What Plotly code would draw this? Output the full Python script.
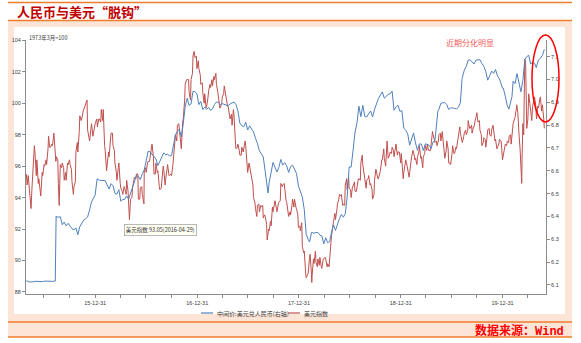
import plotly.graph_objects as go

# ---------------- data ----------------
# USD/CNY central parity (right axis)
cny_2015 = [("2015-04-28",6.117),("2015-05-01",6.118),("2015-05-08",6.113),("2015-05-15",6.112),("2015-05-22",6.114),
            ("2015-05-29",6.116),("2015-06-05",6.115),("2015-06-12",6.117),("2015-06-19",6.116),("2015-06-26",6.115),
            ("2015-07-03",6.117),("2015-07-10",6.116),("2015-07-17",6.117),("2015-07-24",6.116),("2015-07-31",6.116),
            ("2015-08-10",6.117),("2015-08-11",6.230),("2015-08-12",6.331),("2015-08-13",6.401),("2015-08-14",6.398),
            ("2015-08-21",6.397),("2015-08-28",6.399),("2015-09-04",6.364),("2015-09-11",6.375),("2015-09-18",6.359),
            ("2015-09-25",6.370),("2015-10-09",6.346),("2015-10-16",6.341),("2015-10-23",6.350),("2015-10-30",6.320),
            ("2015-11-06",6.355),("2015-11-13",6.370),("2015-11-20",6.385),("2015-11-27",6.390),("2015-12-04",6.398),
            ("2015-12-11",6.428),("2015-12-18",6.464),("2015-12-31",6.494)]
cny_2016 = [("2016-01-07",6.565),("2016-01-15",6.559),("2016-01-22",6.558),("2016-01-29",6.555),("2016-02-05",6.557),
            ("2016-02-19",6.520),("2016-02-26",6.544),("2016-03-04",6.535),("2016-03-11",6.501),("2016-03-18",6.498),
            ("2016-03-25",6.518),("2016-04-01",6.467),("2016-04-08",6.474),("2016-04-15",6.475),("2016-04-22",6.490),
            ("2016-04-29",6.476),("2016-05-06",6.503),("2016-05-13",6.523),("2016-05-20",6.554),("2016-05-27",6.579),
            ("2016-06-03",6.576),("2016-06-10",6.562),("2016-06-17",6.587),("2016-06-24",6.604),("2016-07-01",6.643),
            ("2016-07-08",6.686),("2016-07-15",6.683),("2016-07-22",6.672),("2016-07-29",6.661),("2016-08-05",6.652),
            ("2016-08-12",6.623),("2016-08-19",6.644),("2016-08-26",6.664),("2016-09-02",6.679),("2016-09-09",6.670),
            ("2016-09-16",6.673),("2016-09-23",6.665),("2016-09-30",6.667),("2016-10-14",6.757),("2016-10-21",6.773),
            ("2016-10-28",6.781),("2016-11-04",6.749),("2016-11-11",6.806),("2016-11-18",6.883),("2016-11-25",6.918),
            ("2016-12-02",6.887),("2016-12-09",6.893),("2016-12-16",6.948),("2016-12-23",6.947),("2016-12-30",6.937)]
cny_2017 = [("2017-01-06",6.890),("2017-01-13",6.904),("2017-01-20",6.868),("2017-01-27",6.879),("2017-02-03",6.869),
            ("2017-02-10",6.878),("2017-02-17",6.865),("2017-02-24",6.871),("2017-03-03",6.890),("2017-03-10",6.901),
            ("2017-03-17",6.901),("2017-03-24",6.889),("2017-03-31",6.894),("2017-04-07",6.890),("2017-04-14",6.886),
            ("2017-04-21",6.885),("2017-04-28",6.893),("2017-05-05",6.898),("2017-05-12",6.901),("2017-05-19",6.890),
            ("2017-05-26",6.862),("2017-06-02",6.809),("2017-06-09",6.797),("2017-06-16",6.793),("2017-06-23",6.813),
            ("2017-06-30",6.779),("2017-07-07",6.797),("2017-07-14",6.783),("2017-07-21",6.771),("2017-07-28",6.743),
            ("2017-08-04",6.721),("2017-08-11",6.688),("2017-08-18",6.672),("2017-08-25",6.661),("2017-09-01",6.596),
            ("2017-09-08",6.525),("2017-09-11",6.503),("2017-09-15",6.548),("2017-09-22",6.588),("2017-09-29",6.637),
            ("2017-10-13",6.595),("2017-10-20",6.615),("2017-10-27",6.650),("2017-11-03",6.625),("2017-11-10",6.636),
            ("2017-11-17",6.622),("2017-11-24",6.593),("2017-12-01",6.618),("2017-12-08",6.625),("2017-12-15",6.607),
            ("2017-12-22",6.589),("2017-12-29",6.534)]
cny_2018 = [("2018-01-05",6.510),("2018-01-12",6.486),("2018-01-19",6.431),("2018-01-26",6.322),("2018-02-02",6.300),
            ("2018-02-07",6.288),("2018-02-14",6.330),("2018-02-23",6.327),("2018-03-02",6.330),("2018-03-09",6.330),
            ("2018-03-16",6.318),("2018-03-23",6.315),("2018-03-30",6.280),("2018-04-06",6.307),("2018-04-13",6.285),
            ("2018-04-20",6.290),("2018-04-27",6.332),("2018-05-04",6.363),("2018-05-11",6.339),("2018-05-18",6.369),
            ("2018-05-25",6.390),("2018-06-01",6.409),("2018-06-08",6.397),("2018-06-15",6.412),("2018-06-22",6.486),
            ("2018-06-29",6.617),("2018-07-06",6.616),("2018-07-13",6.688),("2018-07-20",6.768),("2018-07-27",6.810),
            ("2018-08-03",6.883),("2018-08-10",6.837),("2018-08-17",6.887),("2018-08-24",6.838),("2018-08-31",6.836),
            ("2018-09-07",6.850),("2018-09-14",6.862),("2018-09-21",6.836),("2018-09-28",6.869),("2018-10-12",6.917),
            ("2018-10-19",6.931),("2018-10-26",6.946),("2018-11-02",6.918),("2018-11-09",6.926),("2018-11-16",6.935),
            ("2018-11-23",6.937),("2018-11-30",6.949),("2018-12-07",6.865),("2018-12-14",6.880),("2018-12-21",6.888),
            ("2018-12-28",6.860)]
cny_2019 = [("2019-01-04",6.864),("2019-01-11",6.787),("2019-01-18",6.777),("2019-01-25",6.762),("2019-02-01",6.712),
            ("2019-02-08",6.744),("2019-02-15",6.766),("2019-02-22",6.722),("2019-03-01",6.690),("2019-03-08",6.718),
            ("2019-03-15",6.717),("2019-03-22",6.689),("2019-03-29",6.718),("2019-04-05",6.716),("2019-04-12",6.712),
            ("2019-04-19",6.698),("2019-04-26",6.727),("2019-05-03",6.733),("2019-05-10",6.817),("2019-05-13",6.861),
            ("2019-05-17",6.870),("2019-05-24",6.896),("2019-05-31",6.898),("2019-06-07",6.899),("2019-06-14",6.890),
            ("2019-06-21",6.869),("2019-06-28",6.875),("2019-07-05",6.876),("2019-07-12",6.873),("2019-07-19",6.872),
            ("2019-07-26",6.879),("2019-08-02",6.899),("2019-08-08",7.004),("2019-08-16",7.041),("2019-08-23",7.057),
            ("2019-08-30",7.085),("2019-09-06",7.086),("2019-09-13",7.076),("2019-09-20",7.068),("2019-09-27",7.085),
            ("2019-10-11",7.087),("2019-10-18",7.070),("2019-10-25",7.058),("2019-11-01",7.035),("2019-11-08",6.997),
            ("2019-11-15",7.016),("2019-11-22",7.037),("2019-11-29",7.027),("2019-12-06",7.044),("2019-12-13",7.015),
            ("2019-12-20",7.003),("2019-12-31",6.962)]
cny_2020 = [("2020-01-03",6.962),("2020-01-10",6.926),("2020-01-17",6.886),("2020-01-23",6.870),("2020-02-03",6.925),
            ("2020-02-07",6.993),("2020-02-14",6.982),("2020-02-21",7.026),("2020-02-28",6.990),("2020-03-06",6.946),
            ("2020-03-13",6.996),("2020-03-20",7.086),("2020-03-27",7.100),("2020-04-03",7.106),("2020-04-10",7.068),
            ("2020-04-17",7.075),("2020-04-24",7.071),("2020-04-30",7.052),("2020-05-08",7.086),("2020-05-15",7.093),
            ("2020-05-22",7.106),("2020-05-29",7.132)]

# US dollar index (left axis)
dxy_2015 = [("2015-04-28",95.5),("2015-05-01",94.8),("2015-05-05",95.4),("2015-05-08",94.7),("2015-05-12",94.2),
            ("2015-05-15",93.3),("2015-05-19",94.8),("2015-05-22",96.0),("2015-05-27",97.3),("2015-05-29",96.9),
            ("2015-06-03",95.4),("2015-06-05",96.4),("2015-06-10",94.9),("2015-06-12",95.2),("2015-06-17",94.6),
            ("2015-06-19",94.1),("2015-06-24",95.6),("2015-06-26",95.4),("2015-07-01",96.1),("2015-07-03",96.0),
            ("2015-07-08",96.4),("2015-07-10",96.1),("2015-07-15",97.1),("2015-07-17",97.9),("2015-07-21",97.2),
            ("2015-07-24",97.2),("2015-07-29",97.4),("2015-07-31",97.3),("2015-08-05",98.1),("2015-08-07",97.6),
            ("2015-08-12",96.3),("2015-08-14",96.6),("2015-08-19",96.4),("2015-08-21",94.9),("2015-08-24",93.5),
            ("2015-08-28",96.1),("2015-09-02",95.9),("2015-09-04",96.2),("2015-09-09",95.9),("2015-09-11",95.1),
            ("2015-09-16",95.6),("2015-09-18",95.1),("2015-09-23",96.2),("2015-09-25",96.1),("2015-09-30",96.4),
            ("2015-10-02",96.1),("2015-10-07",95.8),("2015-10-09",95.0),("2015-10-14",94.2),("2015-10-16",94.7),
            ("2015-10-21",95.0),("2015-10-23",96.9),("2015-10-28",97.5),("2015-10-30",96.9),("2015-11-04",98.2),
            ("2015-11-06",99.2),("2015-11-11",98.9),("2015-11-13",99.0),("2015-11-18",99.5),("2015-11-20",99.6),
            ("2015-11-25",99.8),("2015-11-27",100.0),("2015-12-02",100.2),("2015-12-04",98.3),("2015-12-09",97.6),
            ("2015-12-11",97.6),("2015-12-16",98.4),("2015-12-18",98.7),("2015-12-23",97.9),("2015-12-31",98.7)]
dxy_2016 = [("2016-01-06",99.0),("2016-01-08",98.5),("2016-01-13",99.0),("2016-01-15",99.0),("2016-01-20",98.8),
            ("2016-01-22",99.6),("2016-01-27",98.9),("2016-01-29",99.6),("2016-02-03",97.3),("2016-02-05",97.0),
            ("2016-02-10",95.7),("2016-02-12",96.0),("2016-02-17",96.9),("2016-02-19",96.6),("2016-02-24",97.5),
            ("2016-02-26",98.1),("2016-03-02",98.1),("2016-03-04",97.3),("2016-03-09",97.0),("2016-03-11",96.2),
            ("2016-03-16",95.6),("2016-03-18",95.1),("2016-03-23",95.9),("2016-03-25",96.2),("2016-03-30",94.9),
            ("2016-04-01",94.6),("2016-04-06",94.4),("2016-04-08",94.2),("2016-04-13",94.7),("2016-04-15",94.6),
            ("2016-04-20",94.2),("2016-04-22",95.1),("2016-04-27",94.4),("2016-04-29",93.05),("2016-05-02",92.6),
            ("2016-05-06",93.9),("2016-05-11",94.0),("2016-05-13",94.6),("2016-05-18",95.1),("2016-05-20",95.3),
            ("2016-05-25",95.2),("2016-05-27",95.5),("2016-06-01",95.5),("2016-06-03",93.9),("2016-06-08",93.9),
            ("2016-06-10",94.6),("2016-06-15",94.7),("2016-06-17",94.2),("2016-06-23",93.6),("2016-06-24",95.6),
            ("2016-06-29",95.9),("2016-07-01",95.6),("2016-07-06",96.2),("2016-07-08",96.3),("2016-07-13",96.3),
            ("2016-07-15",96.6),("2016-07-20",97.1),("2016-07-22",97.4),("2016-07-27",96.6),("2016-07-29",95.5),
            ("2016-08-03",95.5),("2016-08-05",96.2),("2016-08-10",95.6),("2016-08-12",95.7),("2016-08-17",94.7),
            ("2016-08-19",94.5),("2016-08-24",94.6),("2016-08-26",95.1),("2016-08-31",96.0),("2016-09-02",95.8),
            ("2016-09-07",94.8),("2016-09-09",95.2),("2016-09-14",95.8),("2016-09-16",96.1),("2016-09-21",95.4),
            ("2016-09-23",95.4),("2016-09-28",95.5),("2016-09-30",95.4),("2016-10-05",96.1),("2016-10-07",96.5),
            ("2016-10-12",97.5),("2016-10-14",98.0),("2016-10-19",97.6),("2016-10-21",98.6),("2016-10-26",98.7),
            ("2016-10-28",98.4),("2016-11-02",97.3),("2016-11-04",97.1),("2016-11-09",98.8),("2016-11-11",99.0),
            ("2016-11-16",100.2),("2016-11-18",101.2),("2016-11-23",101.5),("2016-11-25",101.5),("2016-11-30",101.5),
            ("2016-12-02",100.7),("2016-12-07",100.2),("2016-12-09",101.5),("2016-12-14",101.9),("2016-12-16",103.0),
            ("2016-12-20",103.3),("2016-12-23",102.9),("2016-12-28",103.0),("2016-12-30",102.2)]
dxy_2017 = [("2017-01-04",102.7),("2017-01-06",102.2),("2017-01-11",101.8),("2017-01-13",101.2),("2017-01-18",101.3),
            ("2017-01-20",100.7),("2017-01-25",100.0),("2017-01-27",100.6),("2017-02-01",99.7),("2017-02-03",99.8),
            ("2017-02-08",100.4),("2017-02-10",100.8),("2017-02-15",101.2),("2017-02-17",101.0),("2017-02-22",101.5),
            ("2017-02-24",101.1),("2017-03-01",101.7),("2017-03-03",101.5),("2017-03-08",101.9),("2017-03-10",101.2),
            ("2017-03-15",100.7),("2017-03-17",100.3),("2017-03-22",99.7),("2017-03-24",99.7),("2017-03-29",100.0),
            ("2017-03-31",100.4),("2017-04-05",100.6),("2017-04-07",101.1),("2017-04-12",100.5),("2017-04-14",100.5),
            ("2017-04-19",99.8),("2017-04-21",99.8),("2017-04-26",99.2),("2017-04-28",99.0),("2017-05-03",99.3),
            ("2017-05-05",98.6),("2017-05-10",99.6),("2017-05-12",99.2),("2017-05-17",97.6),("2017-05-19",97.1),
            ("2017-05-24",97.2),("2017-05-26",97.4),("2017-05-31",97.0),("2017-06-02",96.7),("2017-06-07",96.7),
            ("2017-06-09",97.2),("2017-06-14",96.9),("2017-06-16",97.2),("2017-06-21",97.6),("2017-06-23",97.3),
            ("2017-06-28",96.0),("2017-06-30",95.6),("2017-07-05",96.2),("2017-07-07",96.0),("2017-07-12",95.6),
            ("2017-07-14",95.2),("2017-07-19",94.8),("2017-07-21",94.0),("2017-07-26",93.7),("2017-07-28",93.3),
            ("2017-08-02",92.8),("2017-08-04",93.5),("2017-08-09",93.6),("2017-08-11",93.1),("2017-08-16",93.5),
            ("2017-08-18",93.4),("2017-08-23",93.5),("2017-08-25",92.7),("2017-08-30",92.9),("2017-09-01",92.8),
            ("2017-09-06",92.3),("2017-09-08",91.3),("2017-09-13",92.0),("2017-09-15",91.9),("2017-09-20",92.5),
            ("2017-09-22",92.2),("2017-09-27",93.4),("2017-09-29",93.1),("2017-10-04",93.5),("2017-10-06",93.8),
            ("2017-10-11",93.3),("2017-10-13",93.1),("2017-10-18",93.6),("2017-10-20",93.7),("2017-10-25",93.8),
            ("2017-10-27",94.9),("2017-11-01",94.7),("2017-11-03",94.8),("2017-11-08",94.9),("2017-11-10",94.4),
            ("2017-11-15",93.8),("2017-11-17",93.7),("2017-11-22",93.2),("2017-11-24",92.8),("2017-11-29",93.1),
            ("2017-12-01",92.9),("2017-12-06",93.5),("2017-12-08",93.9),("2017-12-13",93.4),("2017-12-15",93.9),
            ("2017-12-20",93.4),("2017-12-22",93.3),("2017-12-27",92.9),("2017-12-29",92.1)]
dxy_2018 = [("2018-01-03",92.2),("2018-01-05",91.9),("2018-01-10",92.4),("2018-01-12",90.9),("2018-01-17",90.5),
            ("2018-01-19",90.6),("2018-01-24",89.2),("2018-01-26",88.9),("2018-01-31",89.1),("2018-02-02",89.2),
            ("2018-02-07",90.2),("2018-02-09",90.4),("2018-02-14",89.1),("2018-02-15",88.6),("2018-02-16",89.0),
            ("2018-02-21",90.1),("2018-02-23",89.8),("2018-02-28",90.6),("2018-03-02",89.9),("2018-03-07",89.6),
            ("2018-03-09",90.1),("2018-03-14",89.7),("2018-03-16",90.2),("2018-03-21",89.6),("2018-03-23",89.5),
            ("2018-03-28",90.1),("2018-03-30",90.1),("2018-04-04",90.2),("2018-04-06",90.1),("2018-04-11",89.6),
            ("2018-04-13",89.8),("2018-04-18",89.6),("2018-04-20",90.3),("2018-04-25",91.2),("2018-04-27",91.6),
            ("2018-05-02",92.5),("2018-05-04",92.5),("2018-05-09",93.0),("2018-05-11",92.6),("2018-05-16",93.2),
            ("2018-05-18",93.6),("2018-05-23",93.9),("2018-05-25",94.2),("2018-05-30",94.1),("2018-06-01",94.2),
            ("2018-06-06",93.5),("2018-06-08",93.6),("2018-06-13",93.5),("2018-06-15",94.8),("2018-06-20",95.2),
            ("2018-06-22",94.5),("2018-06-27",95.3),("2018-06-29",94.6),("2018-07-04",94.5),("2018-07-06",94.0),
            ("2018-07-11",94.7),("2018-07-13",94.7),("2018-07-18",95.0),("2018-07-20",94.4),("2018-07-25",94.4),
            ("2018-07-27",94.7),("2018-08-01",95.2),("2018-08-03",95.2),("2018-08-08",95.1),("2018-08-10",96.2),
            ("2018-08-15",96.7),("2018-08-17",96.1),("2018-08-22",95.2),("2018-08-24",95.2),("2018-08-29",94.6),
            ("2018-08-31",95.1),("2018-09-05",95.2),("2018-09-07",95.4),("2018-09-12",94.8),("2018-09-14",94.9),
            ("2018-09-19",94.5),("2018-09-21",93.9),("2018-09-26",94.2),("2018-09-28",95.1),("2018-10-03",95.8),
            ("2018-10-05",95.6),("2018-10-10",95.2),("2018-10-12",95.2),("2018-10-17",95.6),("2018-10-19",95.7),
            ("2018-10-24",96.4),("2018-10-26",96.4),("2018-10-31",97.1),("2018-11-02",96.5),("2018-11-07",96.0),
            ("2018-11-09",96.9),("2018-11-12",97.6),("2018-11-16",96.5),("2018-11-21",96.7),("2018-11-23",96.9),
            ("2018-11-28",96.8),("2018-11-30",97.2),("2018-12-05",97.0),("2018-12-07",96.6),("2018-12-12",97.4),
            ("2018-12-14",97.4),("2018-12-19",96.7),("2018-12-21",96.9),("2018-12-26",96.9),("2018-12-31",96.2)]
dxy_2019 = [("2019-01-02",96.8),("2019-01-04",96.2),("2019-01-09",95.2),("2019-01-11",95.6),("2019-01-16",96.1),
            ("2019-01-18",96.4),("2019-01-23",96.0),("2019-01-25",95.8),("2019-01-30",95.3),("2019-02-01",95.6),
            ("2019-02-06",96.4),("2019-02-08",96.6),("2019-02-13",97.0),("2019-02-15",96.9),("2019-02-20",96.4),
            ("2019-02-22",96.5),("2019-02-27",96.1),("2019-03-01",96.6),("2019-03-06",96.9),("2019-03-08",97.3),
            ("2019-03-13",96.5),("2019-03-15",96.6),("2019-03-20",95.9),("2019-03-22",96.6),("2019-03-27",96.8),
            ("2019-03-29",97.3),("2019-04-03",97.0),("2019-04-05",97.4),("2019-04-10",97.0),("2019-04-12",97.0),
            ("2019-04-17",97.0),("2019-04-19",97.4),("2019-04-24",98.2),("2019-04-26",98.0),("2019-05-01",97.7),
            ("2019-05-03",97.5),("2019-05-08",97.6),("2019-05-10",97.3),("2019-05-15",97.6),("2019-05-17",98.0),
            ("2019-05-22",98.1),("2019-05-24",97.6),("2019-05-29",98.2),("2019-05-31",97.8),("2019-06-05",97.2),
            ("2019-06-07",96.5),("2019-06-12",97.0),("2019-06-14",97.6),("2019-06-19",97.1),("2019-06-21",96.2),
            ("2019-06-26",96.2),("2019-06-28",96.1),("2019-07-03",96.8),("2019-07-05",97.3),("2019-07-10",96.8),
            ("2019-07-12",96.8),("2019-07-17",97.2),("2019-07-19",97.1),("2019-07-24",97.7),("2019-07-26",98.0),
            ("2019-07-31",98.5),("2019-08-02",98.1),("2019-08-07",97.6),("2019-08-09",97.5),("2019-08-14",97.9),
            ("2019-08-16",98.1),("2019-08-21",98.3),("2019-08-23",98.0),("2019-08-28",98.2),("2019-08-30",98.9),
            ("2019-09-04",98.4),("2019-09-06",98.4),("2019-09-11",98.6),("2019-09-13",98.1),("2019-09-18",98.5),
            ("2019-09-20",98.5),("2019-09-25",99.0),("2019-09-27",99.1),("2019-09-30",99.4),("2019-10-04",98.8),
            ("2019-10-09",98.9),("2019-10-11",98.3),("2019-10-16",98.0),("2019-10-18",97.3),("2019-10-23",97.5),
            ("2019-10-25",97.8),("2019-10-30",97.7),("2019-11-01",97.2),("2019-11-06",97.9),("2019-11-08",98.3),
            ("2019-11-13",98.4),("2019-11-15",98.0),("2019-11-20",97.9),("2019-11-22",98.3),("2019-11-27",98.6),
            ("2019-11-29",98.3),("2019-12-04",97.6),("2019-12-06",97.7),("2019-12-11",97.1),("2019-12-13",97.2),
            ("2019-12-18",97.4),("2019-12-20",97.7),("2019-12-26",97.6),("2019-12-31",96.4)]
dxy_2020 = [("2020-01-03",96.8),("2020-01-08",97.3),("2020-01-10",97.4),("2020-01-15",97.3),("2020-01-17",97.6),
            ("2020-01-22",97.5),("2020-01-24",97.9),("2020-01-29",98.0),("2020-01-31",97.4),("2020-02-05",98.3),
            ("2020-02-07",98.7),("2020-02-12",99.0),("2020-02-14",99.1),("2020-02-19",99.7),("2020-02-20",99.9),
            ("2020-02-24",99.4),("2020-02-26",99.0),("2020-02-28",98.1),("2020-03-03",97.1),("2020-03-06",96.0),
            ("2020-03-09",94.9),("2020-03-10",96.4),("2020-03-12",97.5),("2020-03-13",98.7),("2020-03-16",98.0),
            ("2020-03-17",99.5),("2020-03-18",101.1),("2020-03-19",102.8),("2020-03-20",102.8),("2020-03-23",102.5),
            ("2020-03-24",101.9),("2020-03-25",101.1),("2020-03-26",99.4),("2020-03-27",98.4),("2020-03-31",99.0),
            ("2020-04-02",100.2),("2020-04-03",100.6),("2020-04-07",100.0),("2020-04-09",99.5),("2020-04-14",98.9),
            ("2020-04-17",99.8),("2020-04-21",100.3),("2020-04-24",100.4),("2020-04-28",99.9),("2020-05-01",99.0),
            ("2020-05-05",99.8),("2020-05-08",99.7),("2020-05-13",100.3),("2020-05-15",100.4),("2020-05-19",99.5),
            ("2020-05-22",99.9),("2020-05-27",99.0),("2020-05-29",98.4)]

cny_pts = cny_2015 + cny_2016 + cny_2017 + cny_2018 + cny_2019 + cny_2020
dxy_pts = dxy_2015 + dxy_2016 + dxy_2017 + dxy_2018 + dxy_2019 + dxy_2020

x_tick_dates = ["2015-12-31", "2016-12-31", "2017-12-31", "2018-12-31", "2019-12-31"]
x_tick_labels = ["15-12-31", "16-12-31", "17-12-31", "18-12-31", "19-12-31"]
x_minor_dates = ["2015-06-30", "2015-09-30", "2016-03-31", "2016-06-30", "2016-09-30",
                 "2017-03-31", "2017-06-30", "2017-09-30", "2018-03-31", "2018-06-30", "2018-09-30",
                 "2019-03-31", "2019-06-30", "2019-09-30", "2020-03-31"]

name_cny = "中间价:美元兑人民币(右轴)"
name_dxy = "美元指数"
title_text = "人民币与美元“脱钩”"
source_text = "数据来源："
note_text = "近期分化明显"
tip_text = "美元指数 93.05(2016-04-29)"
unit_text = "1973年3月=100"

# ---------------- layout geometry ----------------
W, H = 581, 343
PL, PR, PT, PB = 26, 546, 40, 294


def px(x):
    return (x - PL) / (PR - PL)


def py(y):
    return (PB - y) / (PB - PT)


BLUE = "#4f81bd"
RED = "#c0504d"
ORANGE = "#f07d2c"
PEACH = "#fce4d6"
AXIS = "#8c8c8c"
TXT = "#404040"
FONT = "Noto Sans CJK SC"

fig = go.Figure()
fig.add_trace(go.Scatter(x=[d for d, _ in dxy_pts], y=[v for _, v in dxy_pts], mode="lines",
                         line=dict(color=RED, width=1), name=name_dxy, yaxis="y"))
fig.add_trace(go.Scatter(x=[d for d, _ in cny_pts], y=[v for _, v in cny_pts], mode="lines",
                         line=dict(color=BLUE, width=1), name=name_cny, yaxis="y2"))

shapes = [
    dict(type="rect", xref="paper", yref="paper", x0=px(8), x1=px(572), y0=py(21), y1=py(337),
         fillcolor=PEACH, line=dict(width=0), layer="below"),
    dict(type="rect", xref="paper", yref="paper", x0=px(14), x1=px(565), y0=py(27), y1=py(314),
         fillcolor="white", line=dict(width=0), layer="below"),
]
for yy in (2.5, 20.5, 322, 337):
    shapes.append(dict(type="line", xref="paper", yref="paper", x0=px(8), x1=px(572), y0=py(yy), y1=py(yy),
                       line=dict(color=ORANGE, width=1.5), layer="below"))
# ellipse highlight
shapes.append(dict(type="circle", xref="paper", yref="paper", x0=px(532), x1=px(559), y0=py(35), y1=py(122),
                   line=dict(color="#ff0000", width=1.5), layer="above"))
# manual legend lines
shapes.append(dict(type="line", xref="paper", yref="paper", x0=px(201), x1=px(213), y0=py(313), y1=py(313),
                   line=dict(color=BLUE, width=1.2)))
shapes.append(dict(type="line", xref="paper", yref="paper", x0=px(288), x1=px(300), y0=py(313), y1=py(313),
                   line=dict(color=RED, width=1.2)))

annotations = [
    dict(xref="paper", yref="paper", x=px(15), y=py(11.5), xanchor="left", yanchor="middle",
         text="<b>" + title_text + "</b>", showarrow=False, font=dict(family=FONT, size=13, color="#c00000")),
    dict(xref="paper", yref="paper", x=px(566), y=py(330), xanchor="right", yanchor="middle",
         text="<b>" + source_text + "<span style='font-family:Liberation Mono'>Wind</span></b>",
         showarrow=False, font=dict(family=FONT, size=12, color="#ff0000")),
    dict(xref="paper", yref="paper", x=px(27), y=py(38), xanchor="left", yanchor="middle",
         text=unit_text, showarrow=False, font=dict(family=FONT, size=5.5, color=TXT)),
    dict(xref="paper", yref="paper", x=px(470), y=py(42), xanchor="center", yanchor="middle",
         text=note_text, showarrow=False, font=dict(family=FONT, size=8, color="#f25a5a")),
    dict(xref="paper", yref="paper", x=px(160.5), y=py(229.5), xanchor="center", yanchor="middle",
         text=tip_text, showarrow=False, font=dict(family=FONT, size=5.5, color="#333333"),
         bgcolor="#fffff2", bordercolor="#a8a8a8", borderwidth=0.8, borderpad=1),
    dict(xref="paper", yref="paper", x=px(215), y=py(313), xanchor="left", yanchor="middle",
         text=name_cny, showarrow=False, font=dict(family=FONT, size=6, color=TXT)),
    dict(xref="paper", yref="paper", x=px(302), y=py(313), xanchor="left", yanchor="middle",
         text=name_dxy, showarrow=False, font=dict(family=FONT, size=6, color=TXT)),
]

tickfont = dict(family="Liberation Sans", size=5.5, color=TXT)

fig.update_layout(
    width=W, height=H, autosize=False,
    margin=dict(l=PL, r=W - PR, t=PT, b=H - PB, pad=0),
    paper_bgcolor="white", plot_bgcolor="rgba(0,0,0,0)",
    showlegend=False, hovermode=False,
    shapes=shapes, annotations=annotations,
    xaxis=dict(type="date", range=["2015-04-27", "2020-06-04"],
               tickmode="array", tickvals=x_tick_dates, ticktext=x_tick_labels,
               ticks="outside", ticklen=3, tickcolor=AXIS, tickwidth=1,
               showline=True, linecolor=AXIS, linewidth=1, showgrid=False, zeroline=False,
               tickfont=tickfont,
               minor=dict(tickmode="array", tickvals=x_minor_dates, ticks="outside", ticklen=3,
                          tickcolor=AXIS, showgrid=False)),
    yaxis=dict(range=[87.87, 104.02], tick0=88, dtick=2, ticks="outside", ticklen=3, tickcolor=AXIS,
               showline=True, linecolor=AXIS, linewidth=1, showgrid=False, zeroline=False,
               tickfont=tickfont),
    yaxis2=dict(range=[6.0605, 7.173], tick0=6.1, dtick=0.1, tickformat=".1f", overlaying="y", side="right",
                ticks="outside", ticklen=3, tickcolor=AXIS,
                showline=True, linecolor=AXIS, linewidth=1, showgrid=False, zeroline=False,
                tickfont=tickfont),
)

fig.write_html("out.html")
